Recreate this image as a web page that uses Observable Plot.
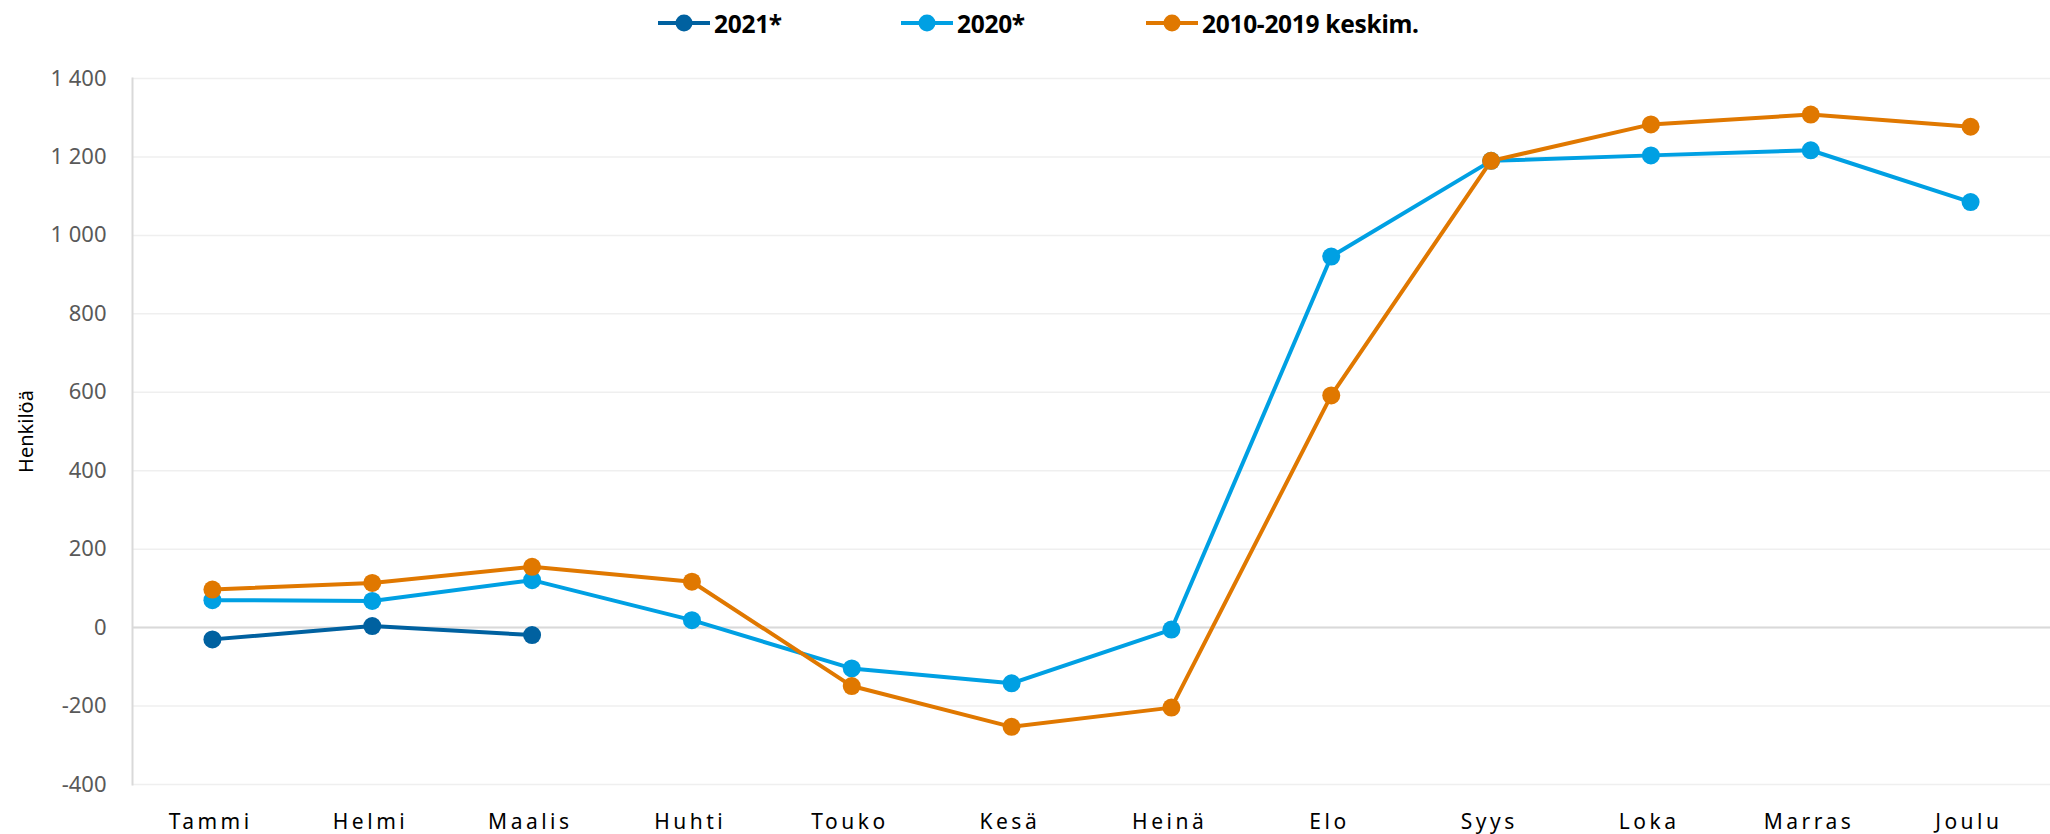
<!DOCTYPE html>
<html>
<head>
<meta charset="utf-8">
<script src="https://cdn.jsdelivr.net/npm/d3@7"></script>
<script src="https://cdn.jsdelivr.net/npm/@observablehq/plot@0.6"></script>
<style>
  html, body { margin: 0; padding: 0; background: #fff; }
  body { width: 2050px; height: 834px; overflow: hidden; font-family: "Noto Sans", sans-serif; }
  #legend { position: relative; height: 50px; width: 2050px; }
  .item { position: absolute; top: 0; height: 46px; display: flex; align-items: center; }
  .item span { font-weight: bold; font-size: 24.5px; color: #000; margin-left: 3px; letter-spacing: -0.3px; }
  #chart g[aria-label="x-axis tick label"] text { letter-spacing: 3.5px; }
</style>
</head>
<body>
<div id="legend"></div>
<div id="chart"></div>
<script>
const months = ["Tammi","Helmi","Maalis","Huhti","Touko","Kesä","Heinä","Elo","Syys","Loka","Marras","Joulu"];
const seriesNames = ["2021*", "2020*", "2010-2019 keskim."];
const seriesColors = ["#0061A0", "#00A0E3", "#E07800"];
const values2021 = [-30, 4, -19];
const values2020 = [70, 68, 121, 19, -104, -142, -5, 946, 1190, 1204, 1217, 1085];
const valuesAvg = [97, 114, 155, 117, -149, -253, -204, 592, 1190, 1283, 1308, 1277];
const yTicks = [-400, -200, 0, 200, 400, 600, 800, 1000, 1200, 1400];

const rows = [];
[values2021, values2020, valuesAvg].forEach((vals, si) => {
  vals.forEach((v, i) => rows.push({ month: months[i], value: v, series: seriesNames[si] }));
});

const fmt = d3.formatLocale({ decimal: ",", thousands: " ", grouping: [3], currency: ["", ""], minus: "-" }).format(",");

// legend
const legend = document.getElementById("legend");
const legendLeft = [657, 900, 1145];
seriesNames.forEach((name, i) => {
  const d = document.createElement("div");
  d.className = "item";
  d.style.left = legendLeft[i] + "px";
  d.innerHTML = `<svg width="54" height="24"><line x1="1" x2="53" y1="12" y2="12" stroke="${seriesColors[i]}" stroke-width="4"/><circle cx="27" cy="12" r="8.5" fill="${seriesColors[i]}"/></svg><span>${name}</span>`;
  legend.appendChild(d);
});

const chart = Plot.plot({
  width: 2050,
  height: 784,
  marginLeft: 132,
  marginRight: 0,
  marginTop: 28,
  marginBottom: 50,
  style: { fontFamily: "Noto Sans, sans-serif", background: "#fff", overflow: "visible" },
  x: { type: "point", domain: months, padding: 0.5, round: false, label: null },
  y: { domain: [-400, 1400], label: null },
  color: { domain: seriesNames, range: seriesColors },
  marks: [
    Plot.gridY(yTicks, { stroke: "#efefef", strokeOpacity: 1, strokeWidth: 1.5 }),
    Plot.ruleY([0], { stroke: "#d9d9d9", strokeWidth: 2 }),
    Plot.frame({ anchor: "left", stroke: "#d9d9d9", strokeWidth: 2 }),
    Plot.axisY(yTicks, { tickSize: 0, tickPadding: 26, tickFormat: fmt, fontSize: 22, fill: "#595959", label: null }),
    Plot.axisX({ tickSize: 0, tickPadding: 30, fontSize: 21, fill: "#000", label: null, dx: -1.75 }),
    Plot.text(["Henkilöä"], { frameAnchor: "left", textAnchor: "middle", rotate: -90, dx: -106, fontSize: 20, fill: "#000" }),
    Plot.line(rows, { x: "month", y: "value", z: "series", stroke: "series", strokeWidth: 4 }),
    Plot.dot(rows, { x: "month", y: "value", fill: "series", r: 9 })
  ]
});
document.getElementById("chart").appendChild(chart);
</script>
</body>
</html>
